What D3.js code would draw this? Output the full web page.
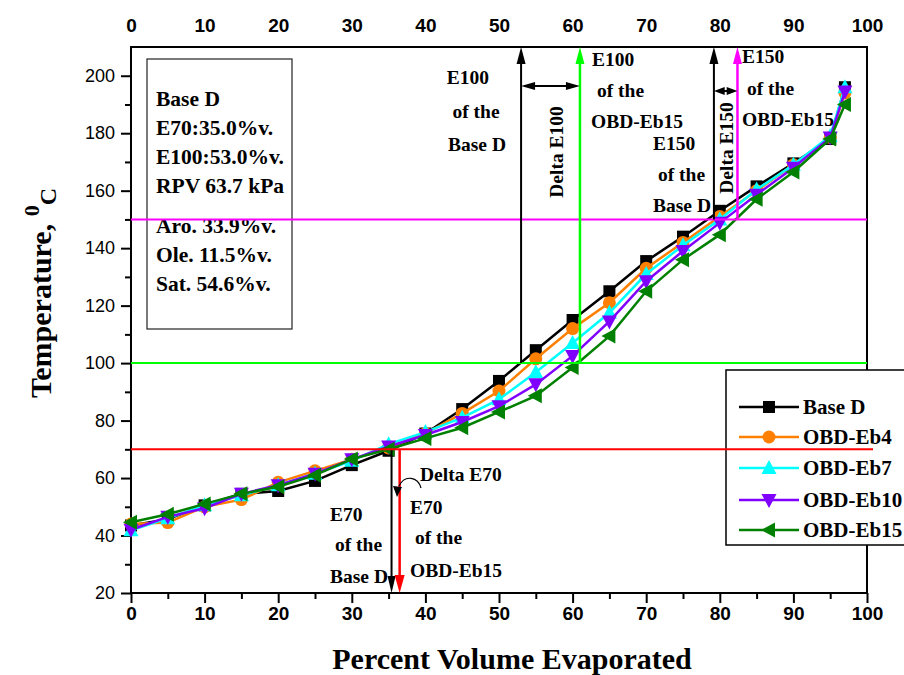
<!DOCTYPE html>
<html><head><meta charset="utf-8">
<script src="https://cdn.jsdelivr.net/npm/d3@7/dist/d3.min.js"></script>
<style>body{margin:0;background:#fff}svg{display:block}</style>
</head><body>
<svg id="c" width="904" height="675"></svg>
<script>
// ---- data ----
const pctEvap = [0,5,10,15,20,25,30,35,40,45,50,55,60,65,70,75,80,85,90,95,97];
const baseD  = [43.5,45.7,50.5,54.5,55.5,59,64.5,69.5,75.5,84,93.8,104.5,115,125,135.5,144,153,161.5,169.5,178,196];
const obdEb4 = [44,44.5,50,52.5,58.5,62.5,66.5,70.5,75.5,82.5,90.3,101.5,112,121,133,142,151,160,169,178.5,194];
const obdEb7 = [41.8,46,50.5,54,57.5,61.5,66,71.8,76,81,87.4,96.8,107,117.5,131,141,150,160.4,169,179,196];
const obdEb10= [42,46.5,49.5,54.5,57.5,61.5,66.5,71,75,79.5,85,92.6,102.5,114.5,128.5,139,148.8,158.6,168,178.5,194.5];
const obdEb15= [44.6,47.4,51,54.5,57,61,66.6,70,73.8,77.5,83,88.6,98.5,109.4,125,136,144.7,157,166.5,178,190];
const seriesNames = ["Base D","OBD-Eb4","OBD-Eb7","OBD-Eb10","OBD-Eb15"];
const xTicks = [0,10,20,30,40,50,60,70,80,90,100];
const yTicks = [20,40,60,80,100,120,140,160,180,200];
const refTemps = [70,100,150];          // E70, E100, E150 temperatures
const e70 = [35.4,36.5];                // Base D, OBD-Eb15
const e100 = [53,61];
const e150 = [79.2,82.4];
const boxLines = ["Base D","E70:35.0%v.","E100:53.0%v.","RPV 63.7 kPa","Aro. 33.9%v.","Ole. 11.5%v.","Sat. 54.6%v."];

// ---- setup ----
const svg = d3.select("#c");
const L=131,R=867,T=47,B=593;
const x = d3.scaleLinear().domain([0,100]).range([L,R]);
const y = d3.scaleLinear().domain([20,210]).range([B,T]);
const serif = "'Liberation Serif','Times New Roman',serif";
const sans = "'Liberation Sans',Arial,sans-serif";
const colors = ["#000000","#ff8000","#00ffff","#8000ff","#008000"];
const data = [baseD,obdEb4,obdEb7,obdEb10,obdEb15];

// axes
const gB = svg.append("g").attr("transform",`translate(0,${B})`)
  .call(d3.axisBottom(x).tickValues(xTicks).tickSize(10).tickPadding(4));
const gBm = svg.append("g").attr("transform",`translate(0,${B})`)
  .call(d3.axisBottom(x).tickValues(d3.range(5,100,10)).tickSize(6).tickFormat(""));
const gT = svg.append("g").attr("transform",`translate(0,${T})`)
  .call(d3.axisTop(x).tickValues(xTicks).tickSize(0).tickPadding(15));
const gL = svg.append("g").attr("transform",`translate(${L},0)`)
  .call(d3.axisLeft(y).tickValues(yTicks).tickSize(10).tickPadding(6));
const gLm = svg.append("g").attr("transform",`translate(${L},0)`)
  .call(d3.axisLeft(y).tickValues(d3.range(30,200,20)).tickSize(6).tickFormat(""));
[gB,gBm,gT,gL,gLm].forEach(g=>{g.select(".domain").remove();g.selectAll("line").attr("stroke","#000").attr("stroke-width",2);});
[gB,gT].forEach(g=>g.selectAll("text").attr("font-family",sans).attr("font-weight","bold").attr("font-size",19).attr("fill","#000"));
gL.selectAll("text").attr("font-family",sans).attr("font-size",18).attr("fill","#000");

// frame
svg.append("rect").attr("x",L).attr("y",T).attr("width",R-L).attr("height",B-T)
  .attr("fill","none").attr("stroke","#000").attr("stroke-width",2);

// axis titles
svg.append("text").attr("x",512).attr("y",669).attr("text-anchor","middle")
  .attr("font-family",serif).attr("font-weight","bold").attr("font-size",30).text("Percent Volume Evaporated");
const yt = svg.append("text").attr("transform","translate(51,293) rotate(-90)").attr("text-anchor","middle")
  .attr("font-family",serif).attr("font-weight","bold").attr("font-size",30);
yt.append("tspan").text("Temperature, ");
yt.append("tspan").attr("font-size",22).attr("dy",-12).text("0");
yt.append("tspan").attr("font-size",24).attr("dy",17).text("C");

// text box
svg.append("rect").attr("x",147).attr("y",59).attr("width",145).attr("height",270)
  .attr("fill","none").attr("stroke","#222").attr("stroke-width",1.2);
const boxY = [106,135,164,193,233,262,291];
boxLines.forEach((t,i)=>svg.append("text").attr("x",156).attr("y",boxY[i])
  .attr("font-family",serif).attr("font-weight","bold").attr("font-size",21.5).text(t));

// series
const line = d3.line().x((d,i)=>x(pctEvap[i])).y(d=>y(d));
function marker(g,kind,cx,cy,col){
  if(kind===0) g.append("rect").attr("x",cx-6).attr("y",cy-6).attr("width",12).attr("height",12).attr("fill",col);
  else if(kind===1) g.append("circle").attr("cx",cx).attr("cy",cy).attr("r",6.5).attr("fill",col);
  else if(kind===2) g.append("path").attr("d",`M${cx},${cy-8}L${cx+7.5},${cy+6}L${cx-7.5},${cy+6}Z`).attr("fill",col);
  else if(kind===3) g.append("path").attr("d",`M${cx},${cy+8}L${cx+7.5},${cy-6}L${cx-7.5},${cy-6}Z`).attr("fill",col);
  else g.append("path").attr("d",`M${cx-8},${cy}L${cx+6},${cy-7.5}L${cx+6},${cy+7.5}Z`).attr("fill",col);
}
data.forEach((s,k)=>{
  const g = svg.append("g");
  g.append("path").datum(s).attr("d",line).attr("fill","none").attr("stroke",colors[k]).attr("stroke-width",2.5);
  s.forEach((v,i)=>marker(g,k,x(pctEvap[i]),y(v),colors[k]));
});

// reference lines
const refCol = ["#ff0000","#00ff00","#ff00ff"];
refTemps.forEach((t,i)=>{
  if(i===0) return;
  svg.append("line").attr("x1",L).attr("x2",R).attr("y1",y(t)).attr("y2",y(t)).attr("stroke",refCol[i]).attr("stroke-width",2);
});

// arrows
function vArrow(xv,y1,y2,col,w,hw,hl){ // from y1 to tip at y2
  const xx=x(xv), dir = y2<y1?1:-1;
  svg.append("line").attr("x1",xx).attr("x2",xx).attr("y1",y1).attr("y2",y2+dir*hl*0.8).attr("stroke",col).attr("stroke-width",w);
  svg.append("path").attr("d",`M${xx},${y2}L${xx-hw},${y2+dir*hl}L${xx+hw},${y2+dir*hl}Z`).attr("fill",col);
}
function hDouble(x1v,x2v,yy,col){
  const a=x(x1v), b=x(x2v), hl=Math.min(14,(b-a)/2-1), hw=4;
  svg.append("line").attr("x1",a+4).attr("x2",b-4).attr("y1",yy).attr("y2",yy).attr("stroke",col).attr("stroke-width",2);
  svg.append("path").attr("d",`M${a},${yy}L${a+hl},${yy-hw}L${a+hl},${yy+hw}Z`).attr("fill",col);
  svg.append("path").attr("d",`M${b},${yy}L${b-hl},${yy-hw}L${b-hl},${yy+hw}Z`).attr("fill",col);
}
vArrow(e100[0],y(refTemps[1]),T,"#000",2,4.5,17);
vArrow(e100[1],y(refTemps[1]),T,"#00ff00",2.5,4.5,17);
hDouble(e100[0],e100[1],86,"#000");
vArrow(e150[0],y(refTemps[2]),T,"#000",2,4.5,17);
vArrow(e150[1],y(refTemps[2]),T,"#ff00ff",2.5,4.5,17);
hDouble(e150[0],e150[1],91,"#000");
vArrow(e70[0],y(refTemps[0]),B,"#000",2,4,17);
vArrow(e70[1],y(refTemps[0]),B,"#ff0000",2.5,5,18);

// curved callout
svg.append("path").attr("d","M421,488 C418,477 405,474 399,486").attr("fill","none").attr("stroke","#000").attr("stroke-width",1.2);
svg.append("path").attr("d","M397,497 L393,486 L402,487 Z").attr("fill","#000");

// annotation texts
function ann(t,xx,yy,anchor){
  svg.append("text").attr("x",xx).attr("y",yy).attr("text-anchor",anchor||"start")
   .attr("font-family",serif).attr("font-weight","bold").attr("font-size",19.5).text(t);
}
ann("E100",468,84,"middle"); ann("of the",476,118,"middle"); ann("Base D",477,151,"middle");
ann("E100",592,66); ann("of the",597,97); ann("OBD-Eb15",591,128);
ann("E150",742,63); ann("of the",747,95); ann("OBD-Eb15",742,126);
ann("E150",653,150); ann("of the",658,181); ann("Base D",653,212);
ann("Delta E70",420,481);
ann("E70",410,514); ann("of the",415,544); ann("OBD-Eb15",410,577);
ann("E70",330,521); ann("of the",335,551); ann("Base D",330,583);
svg.append("text").attr("transform","translate(556,152) rotate(-90)").attr("text-anchor","middle")
  .attr("dominant-baseline","central").attr("font-family",serif).attr("font-weight","bold").attr("font-size",19.5).text("Delta E100");
svg.append("text").attr("transform","translate(726,148) rotate(-90)").attr("text-anchor","middle")
  .attr("dominant-baseline","central").attr("font-family",serif).attr("font-weight","bold").attr("font-size",19.5).text("Delta E150");

// legend
const lg = svg.append("g");
lg.append("rect").attr("x",726).attr("y",370).attr("width",190).attr("height",175)
  .attr("fill","#fff").attr("stroke","#000").attr("stroke-width",1.5);
const legY=[407,437,468,500,530];
seriesNames.forEach((n,k)=>{
  lg.append("line").attr("x1",739).attr("x2",799).attr("y1",legY[k]).attr("y2",legY[k]).attr("stroke",colors[k]).attr("stroke-width",2.5);
  marker(lg,k,769,legY[k],colors[k]);
  lg.append("text").attr("x",803).attr("y",legY[k]+7).attr("font-family",serif).attr("font-weight","bold").attr("font-size",21).text(n);
});

// red E70 line (drawn over legend like the original)
svg.append("line").attr("x1",L).attr("x2",873).attr("y1",y(refTemps[0])).attr("y2",y(refTemps[0])).attr("stroke",refCol[0]).attr("stroke-width",2);
</script>
</body></html>
